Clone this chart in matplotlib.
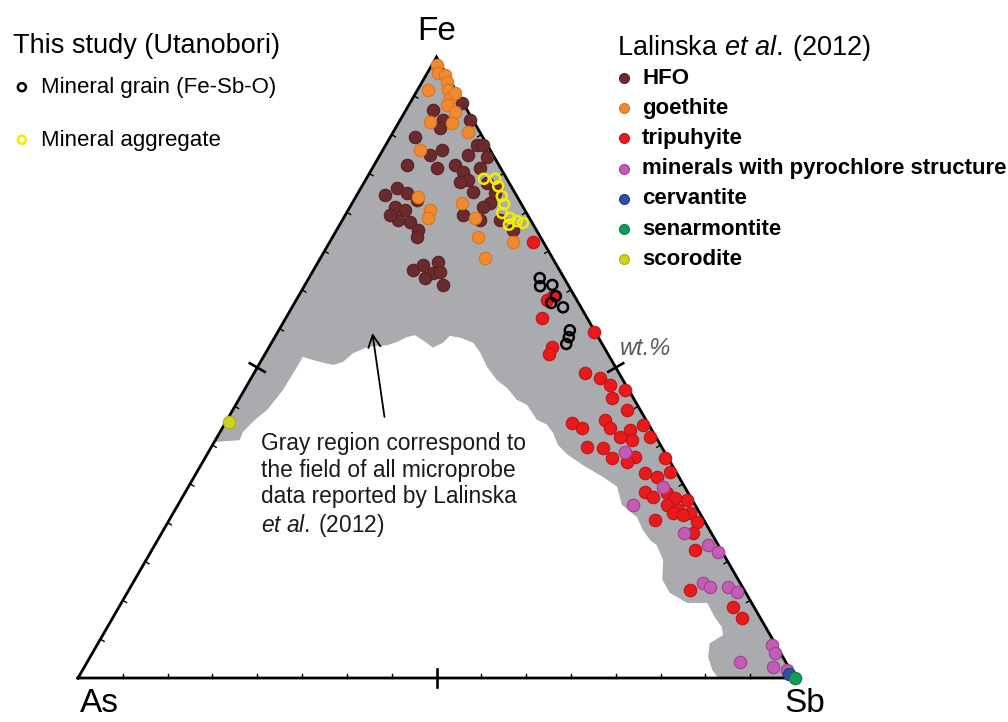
import numpy as np
import matplotlib.pyplot as plt

plt.rcParams["font.family"] = ["Liberation Sans", "DejaVu Sans"]
plt.rcParams["mathtext.fontset"] = "custom"
plt.rcParams["mathtext.rm"] = "Liberation Sans"
plt.rcParams["mathtext.it"] = "Liberation Sans:italic"

# compositions in wt.% : Fe and Sb, As = 100 - Fe - Sb
hfo_fe = [92.6, 91.5, 89.9, 89.9, 88.6, 87.1, 85.8, 85.8, 84.2, 85.0, 84.2, 82.6,
          82.1, 82.6, 81.5, 83.9, 82.1, 80.2, 79.9, 79.7, 78.9, 78.1, 75.9, 75.4,
          77.0, 73.4, 72.2, 73.8, 78.3, 74.6, 73.8, 78.1, 76.5, 73.8, 72.2, 75.9,
          79.1, 65.7, 66.5, 67.0, 65.2, 64.4, 63.3, 65.4, 71.0, 77.8, 74.6]
hfo_sb = [7.3, 3.8, 9.7, 6.0, 6.2, 3.5, 12.8, 13.6, 7.0, 8.3, 12.3, 4.6,
          9.0, 11.3, 13.0, 15.1, 15.0, 14.3, 13.3, 17.2, 5.0, 6.8, 6.3, 7.9,
          8.8, 9.6, 11.3, 7.7, 15.9, 16.4, 19.2, 19.1, 19.2, 21.9, 24.6, 18.5,
          18.9, 13.9, 14.9, 16.7, 16.9, 16.2, 19.3, 17.8, 11.8, 3.9, 6.2]

goethite_fe = [98.7, 97.4, 97.1, 96.0, 94.7, 94.7, 93.4, 94.2, 92.3, 91.2, 89.5,
               89.4, 87.9, 85.0, 77.5, 75.4, 74.1, 76.5, 74.1, 71.0, 67.6, 70.2]
goethite_sb = [0.7, 1.5, 2.6, 3.5, 1.5, 4.3, 5.2, 5.5, 5.3, 7.0, 4.3,
               7.5, 10.4, 5.2, 8.7, 11.4, 11.8, 15.3, 18.3, 20.3, 23.0, 25.6]

tripuhyite_fe = [70.2, 60.9, 58.0, 55.7, 53.3, 52.2, 61.5, 49.1, 48.3, 47.2, 46.4,
                 45.1, 43.2, 41.1, 40.3, 41.6, 40.3, 39.9, 40.7, 38.8, 38.8, 38.3,
                 37.2, 37.0, 35.6, 35.4, 34.8, 35.4, 33.0, 32.4, 33.2, 30.0, 29.2,
                 29.8, 29.0, 28.7, 27.9, 27.1, 26.6, 25.1, 25.4, 23.4, 26.6, 20.6,
                 14.2, 11.4, 9.7, 26.3]
tripuhyite_sb = [28.4, 35.0, 35.7, 44.1, 39.5, 39.6, 35.5, 46.2, 48.7, 50.6, 53.1,
                 51.9, 55.0, 48.3, 50.1, 52.7, 54.0, 57.0, 58.5, 60.4, 56.2, 58.1,
                 52.4, 54.7, 59.9, 56.8, 59.2, 64.2, 62.6, 64.6, 66.0, 64.1, 65.6,
                 67.3, 68.8, 70.6, 68.2, 70.1, 72.1, 73.8, 67.8, 74.1, 69.7, 75.8,
                 78.3, 85.7, 87.8, 71.2]

pyrochlore_fe = [36.4, 30.8, 27.9, 23.4, 21.4, 20.3, 15.3, 14.7, 14.7, 13.9, 5.3,
                 4.0, 2.6, 1.8, 1.3]
pyrochlore_sb = [58.1, 66.2, 63.5, 72.8, 77.2, 79.1, 79.5, 80.8, 83.3, 85.0, 94.1,
                 95.2, 91.0, 96.0, 98.2]

cervantite_fe, cervantite_sb = [0.6], [98.9]
senarmontite_fe, senarmontite_sb = [0.0], [100.0]
scorodite_fe, scorodite_sb = [41.2], [0.5]

# this study (Utanobori)
aggregate_fe = [80.4, 80.4, 79.2, 77.6, 76.3, 74.9, 74.1, 73.0, 73.6, 73.3]
aggregate_sb = [16.4, 18.0, 19.0, 20.3, 21.3, 21.7, 23.2, 23.6, 24.4, 25.4]
grain_fe = [64.4, 63.1, 63.3, 61.5, 60.4, 59.7, 56.0, 54.9, 53.8]
grain_sb = [32.2, 32.9, 34.5, 35.9, 35.8, 37.8, 40.6, 41.0, 41.2]

# outline of the field of all Lalinska et al. (2012) microprobe data
field_fe = [100.0, 0.0, 0.0, 1.3, 3.4, 5.6, 6.9, 8.2, 9.8, 12.1, 12.1, 13.7, 15.8,
            19.0, 21.4, 22.2, 23.8, 25.9, 27.9, 30.8, 32.4, 34.1, 35.9, 37.5, 39.5,
            40.8, 41.6, 44.0, 44.8, 46.7, 48.0, 50.1, 52.5, 54.0, 54.8, 55.1, 54.0,
            53.2, 54.4, 55.2, 54.9, 54.1, 53.6, 53.3, 52.3, 50.9, 50.4, 50.9, 51.7,
            50.1, 46.4, 43.2, 41.6, 39.6, 38.3, 38.0]
field_sb = [0.0, 100.0, 89.3, 87.8, 86.2, 85.3, 86.5, 85.7, 83.9, 81.7, 78.9, 75.7,
            73.6, 72.1, 70.0, 68.7, 66.9, 65.0, 61.9, 59.8, 57.0, 53.6, 50.4, 48.2,
            46.5, 45.0, 43.2, 40.6, 38.8, 36.5, 34.4, 32.0, 29.8, 28.1, 25.9, 24.3,
            23.9, 22.9, 20.9, 19.4, 18.4, 17.4, 16.3, 13.7, 12.2, 11.5, 10.4, 8.3,
            5.5, 5.5, 5.4, 4.8, 3.9, 3.2, 3.4, 0.0]


def tern(fe, sb):
    fe = np.asarray(fe, dtype=float) / 100
    sb = np.asarray(sb, dtype=float) / 100
    return sb + fe / 2, fe * np.sqrt(3) / 2


W, H = 1008, 722


def fig_xy(px, py):
    return px / W, 1 - py / H


fig = plt.figure(figsize=(W / 100, H / 100), dpi=100)
ax = fig.add_axes([0, 0, 1, 1])
ax.set_xlim(-78 / 717, 930 / 717)
ax.set_ylim(-44 / 717, 678 / 717)
ax.axis("off")

ax.fill(*tern(field_fe, field_sb), color="#a9abaf", lw=0, zorder=1)

# triangle frame and ticks
corners = np.array([[0, 0], [1, 0], [0.5, np.sqrt(3) / 2]])
ax.plot(*np.vstack([corners, corners[:1]]).T, color="black", lw=2.0, zorder=2,
        solid_joinstyle="miter")
centre = corners.mean(axis=0)
for i in range(3):
    a, b = corners[i], corners[(i + 1) % 3]
    d = b - a
    n = np.array([-d[1], d[0]]) / np.linalg.norm(d)
    if np.dot(centre - a, n) < 0:
        n = -n
    for k in range(1, 16):
        p = a + d * k / 16
        if k == 8:
            seg = np.array([p - n * 0.012, p + n * 0.012])
            ax.plot(*seg.T, color="black", lw=1.9, zorder=2)
        else:
            seg = np.array([p, p + n * 0.006])
            ax.plot(*seg.T, color="black", lw=1.0, zorder=2)

mk = dict(s=80, linewidths=0.8, zorder=4)
sc_hfo = ax.scatter(*tern(hfo_fe, hfo_sb), c="#6b2a2c", edgecolors="#592023", label="HFO", **mk)
sc_goe = ax.scatter(*tern(goethite_fe, goethite_sb), c="#f0892f", edgecolors="#d8761f", label="goethite", **mk)
sc_tri = ax.scatter(*tern(tripuhyite_fe, tripuhyite_sb), c="#e81a1c", edgecolors="#bf1416", label="tripuhyite", **mk)
sc_pyr = ax.scatter(*tern(pyrochlore_fe, pyrochlore_sb), c="#c45bb5", edgecolors="#a1408f",
                    label="minerals with pyrochlore structure", **mk)
sc_cer = ax.scatter(*tern(cervantite_fe, cervantite_sb), c="#2d4fa5", edgecolors="#223d85", label="cervantite", **mk)
sc_sen = ax.scatter(*tern(senarmontite_fe, senarmontite_sb), c="#139c55", edgecolors="#0d7a42", label="senarmontite", **mk)
sc_sco = ax.scatter(*tern(scorodite_fe, scorodite_sb), c="#cdd31f", edgecolors="#aab012", label="scorodite", **mk)

op = dict(s=52, facecolors="none", linewidths=1.8, zorder=5)
sc_agg = ax.scatter(*tern(aggregate_fe, aggregate_sb), edgecolors="#f2ee00", label="Mineral aggregate", **op)
sc_grn = ax.scatter(*tern(grain_fe, grain_sb), edgecolors="black", label="Mineral grain (Fe-Sb-O)", **op)

ax.annotate("", xy=tern(56.0, 13.0), xytext=tern(41.6, 22.0),
            arrowprops=dict(arrowstyle="->", color="black", lw=1.3, mutation_scale=22))

# vertex labels
fig.text(*fig_xy(437, 31), "Fe", fontsize=24, ha="center", va="center")
fig.text(*fig_xy(99, 703), "As", fontsize=24, ha="center", va="center")
fig.text(*fig_xy(805, 703), "Sb", fontsize=24, ha="center", va="center")
fig.text(*fig_xy(645, 349), "wt.%", fontsize=17, style="italic", color="#5a5a5a",
         ha="center", va="center")

fig.text(*fig_xy(261, 432), "Gray region correspond to\nthe field of all microprobe\n"
         "data reported by Lalinska\n$\\it{et\\ al.\\:}$(2012)",
         fontsize=16.4, ha="left", va="top", linespacing=1.2, color="#1a1a1a")

# legend titles
fig.text(*fig_xy(13, 53), "This study (Utanobori)", fontsize=19.5, va="baseline")
fig.text(*fig_xy(617, 55), "Lalinska $\\it{et\\ al.\\:}$(2012)", fontsize=19.5, va="baseline")

leg1 = ax.legend(handles=[sc_hfo, sc_goe, sc_tri, sc_pyr, sc_cer, sc_sen, sc_sco],
                 loc="upper left", bbox_to_anchor=fig_xy(615, 68),
                 bbox_transform=fig.transFigure, frameon=False,
                 prop={"weight": "bold", "size": 16}, scatterpoints=1, markerscale=0.8,
                 handlelength=0.8, handletextpad=0.42, labelspacing=0.41,
                 borderpad=0, borderaxespad=0)
ax.add_artist(leg1)

ax.legend(handles=[sc_grn, sc_agg], loc="upper left", bbox_to_anchor=fig_xy(13, 77),
          bbox_transform=fig.transFigure, frameon=False, prop={"size": 16},
          scatterpoints=1, markerscale=0.8, handlelength=0.8, handletextpad=0.45,
          labelspacing=1.42, borderpad=0, borderaxespad=0)

fig.savefig("out.png", dpi=100)
